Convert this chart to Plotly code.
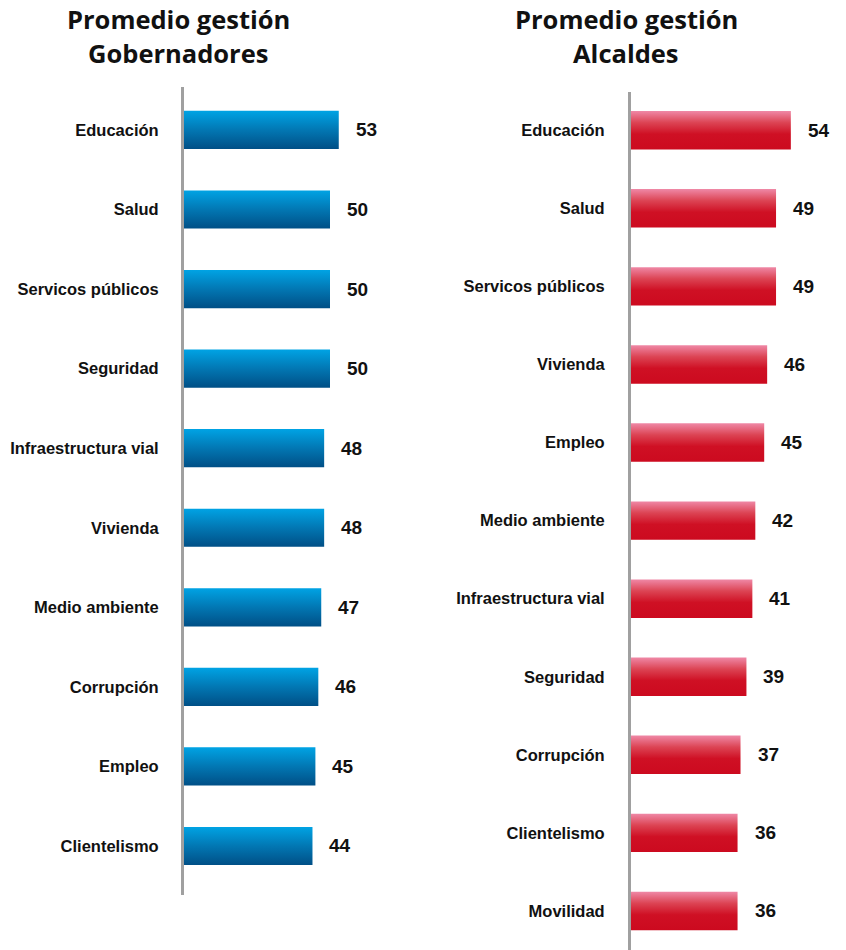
import plotly.graph_objects as go

gob_cats = ["Educación", "Salud", "Servicos públicos", "Seguridad", "Infraestructura vial",
            "Vivienda", "Medio ambiente", "Corrupción", "Empleo", "Clientelismo"]
gob_vals = [53, 50, 50, 50, 48, 48, 47, 46, 45, 44]

alc_cats = ["Educación", "Salud", "Servicos públicos", "Vivienda", "Empleo", "Medio ambiente",
            "Infraestructura vial", "Seguridad", "Corrupción", "Clientelismo", "Movilidad"]
alc_vals = [54, 49, 49, 46, 45, 42, 41, 39, 37, 36, 36]

W, H = 846, 950
blue_scale = [[0, "#004f86"], [0.5, "#0277b3"], [1, "#00a3e4"]]
red_scale = [[0, "#cc0a1f"], [0.4, "#cf1024"], [0.7, "#dc4454"], [1, "#ef88a6"]]

fig = go.Figure()

def add_panel(cats, vals, xa, ya, half, scale):
    for i, (c, v) in enumerate(zip(cats, vals)):
        yc = -i
        fig.add_trace(go.Scatter(
            x=[0, v, v, 0, 0], y=[yc - half, yc - half, yc + half, yc + half, yc - half],
            mode="lines", line=dict(width=0), fill="toself",
            fillgradient=dict(type="vertical", colorscale=scale),
            xaxis=xa, yaxis=ya, hoverinfo="skip", showlegend=False))
        fig.add_annotation(x=v, y=yc, xref=xa, yref=ya, text=str(v), showarrow=False,
                           xanchor="left", xshift=15,
                           font=dict(family="Liberation Sans", size=19, color="#111111",
                                     weight="bold"))

add_panel(gob_cats, gob_vals, "x", "y", 0.24, blue_scale)
add_panel(alc_cats, alc_vals, "x2", "y2", 0.246, red_scale)

axis_font = dict(family="Liberation Sans", size=16.5, color="#111111", weight="bold")
x0l, x0r = 184, 631
fig.update_layout(
    width=W, height=H, margin=dict(l=0, r=0, t=0, b=0),
    paper_bgcolor="white", plot_bgcolor="white",
    xaxis=dict(domain=[x0l / W, (x0l + 2.92 * 60) / W], range=[0, 60], visible=False, fixedrange=True),
    yaxis=dict(domain=[1 - 895 / H, 1 - 87 / H], range=[-9.616, 0.54], fixedrange=True,
               tickvals=[-i for i in range(len(gob_cats))], ticktext=gob_cats,
               showline=True, linecolor="#a0a0a0", linewidth=3, showgrid=False, zeroline=False,
               ticks="", ticklabelstandoff=19, tickfont=axis_font, anchor="x"),
    xaxis2=dict(domain=[x0r / W, (x0r + 2.96 * 60) / W], range=[0, 60], visible=False, fixedrange=True,
                anchor="y2"),
    yaxis2=dict(domain=[0, 1 - 92 / H], range=[-10.5, 0.49], fixedrange=True,
                tickvals=[-i for i in range(len(alc_cats))], ticktext=alc_cats,
                showline=True, linecolor="#a0a0a0", linewidth=3, showgrid=False, zeroline=False,
                ticks="", ticklabelstandoff=20, tickfont=axis_font, anchor="x2"),
)

title_font = dict(family="Open Sans", size=25.5, color="#111111", weight="bold")
for xc, lines in [(178, ["Promedio gestión", "Gobernadores"]), (626, ["Promedio gestión", "Alcaldes"])]:
    for k, line in enumerate(lines):
        fig.add_annotation(x=xc / W, y=1 - (19 + 34 * k) / H, xref="paper", yref="paper",
                           text=line, showarrow=False, xanchor="center", yanchor="middle",
                           font=title_font)

fig.write_html("out.html", config={"displayModeBar": False},
               post_script="document.body.style.margin='0';")
